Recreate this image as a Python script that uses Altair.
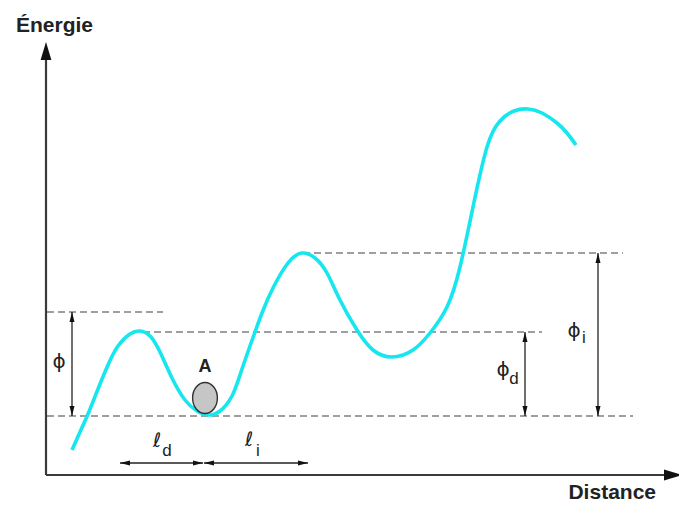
import altair as alt
import pandas as pd

# ---- data (distance d, energy e; origin at axes crossing) ----
curve_d = [26, 34, 42, 52, 62, 72, 84, 94, 104, 114, 126, 139, 151, 162, 174, 186, 194, 204,
           216, 227, 242, 256, 269, 281, 294, 311, 327, 346, 367, 384, 401, 414, 427, 441,
           454, 468, 482, 496, 511, 521, 530]
curve_e = [25, 43, 61, 86, 110, 129, 141, 144, 139, 123, 97, 75, 64, 60, 64, 79, 100, 129,
           162, 187, 212, 222, 217, 202, 175, 145, 125, 118, 125, 142, 168, 208, 268, 328,
           354, 364, 366, 362, 352, 342, 330]

# dashed reference levels
dash_d1 = [1, 1, 97, 257]
dash_d2 = [117, 587, 496, 577]
dash_e = [163, 59, 143, 222]

# vertical double arrows (phi, phi_d, phi_i)
varrow_d = [26, 479, 552]
varrow_e1 = [59, 59, 59]
varrow_e2 = [163, 143, 222]

# horizontal double arrows (l_d, l_i)
harrow_d1 = [74, 158]
harrow_d2 = [157, 262]
harrow_e = [12, 12]

# axes
axis_x_end = 636
axis_y_end = 433

# labels
sym_text = ["ϕ", "ϕ", "ϕ", "ℓ", "ℓ"]
sym_d = [13, 457, 528, 111, 203]
sym_e = [113, 105, 144, 34, 35]
sub_text = ["d", "i", "d", "i"]
sub_d = [468, 538, 121, 212]
sub_e = [96, 137, 24, 24]

ball_d = [159]
ball_e = [77]
ball_label = ["A"]
ball_label_e = [108]

# ---- scales ----
XS = alt.Scale(domain=[-38, 633])
YS = alt.Scale(domain=[-29, 467])


def X(f):
    return alt.X(f, type="quantitative", scale=XS, axis=None)


def Y(f):
    return alt.Y(f, type="quantitative", scale=YS, axis=None)


df_curve = pd.DataFrame({"d": curve_d, "e": curve_e})
df_dash = pd.DataFrame({"d1": dash_d1, "d2": dash_d2, "e": dash_e})
df_varrow = pd.DataFrame({"d": varrow_d, "e1": varrow_e1, "e2": varrow_e2})
df_harrow = pd.DataFrame({"d1": harrow_d1, "d2": harrow_d2, "e": harrow_e})

heads = []
for d, e1, e2 in zip(varrow_d, varrow_e1, varrow_e2):
    heads.append({"d": d, "e": e2, "ang": 0})
    heads.append({"d": d, "e": e1, "ang": 180})
for d1, d2, e in zip(harrow_d1, harrow_d2, harrow_e):
    heads.append({"d": d1, "e": e, "ang": 270})
    heads.append({"d": d2, "e": e, "ang": 90})
df_heads = pd.DataFrame(heads)

df_axes = pd.DataFrame({"d1": [0, 0], "d2": [axis_x_end - 10, 0],
                        "e1": [0, 0], "e2": [0, axis_y_end - 10]})
df_axheads = pd.DataFrame({"d": [axis_x_end, 0], "e": [0, axis_y_end], "ang": [90, 0]})

df_sym = pd.DataFrame({"d": sym_d, "e": sym_e, "t": sym_text})
df_sub = pd.DataFrame({"d": sub_d, "e": sub_e, "t": sub_text})
df_ball = pd.DataFrame({"d": ball_d, "e": ball_e})
df_A = pd.DataFrame({"d": ball_d, "e": ball_label_e, "t": ball_label})
df_titles = pd.DataFrame({"d": [-30], "e": [443], "t": ["Énergie"]})
df_titles2 = pd.DataFrame({"d": [610], "e": [-24], "t": ["Distance"]})

small_head = "M0,0L-0.5,2L0.5,2Z"
big_head = "M0,0L-0.3,1L0.3,1Z"
ellipse = "M-0.8,0A0.8,1 0 1,0 0.8,0A0.8,1 0 1,0 -0.8,0Z"

axes = alt.Chart(df_axes).mark_rule(color="#3a3a3a", strokeWidth=2.2).encode(
    x=X("d1"), x2=alt.X2("d2"), y=Y("e1"), y2=alt.Y2("e2"))
axheads = alt.Chart(df_axheads).mark_point(
    shape=big_head, size=1296, filled=True, color="#111", opacity=1).encode(
    x=X("d"), y=Y("e"), angle=alt.Angle("ang:Q", scale=None))

dashes = alt.Chart(df_dash).mark_rule(
    color="#808080", strokeWidth=1.6, strokeDash=[7, 4]).encode(
    x=X("d1"), x2=alt.X2("d2"), y=Y("e"))

varrows = alt.Chart(df_varrow).mark_rule(color="#222", strokeWidth=1.3).encode(
    x=X("d"), y=Y("e1"), y2=alt.Y2("e2"))
harrows = alt.Chart(df_harrow).mark_rule(color="#222", strokeWidth=1.3).encode(
    x=X("d1"), x2=alt.X2("d2"), y=Y("e"))
arrowheads = alt.Chart(df_heads).mark_point(
    shape=small_head, size=100, filled=True, color="#111", opacity=1).encode(
    x=X("d"), y=Y("e"), angle=alt.Angle("ang:Q", scale=None))

curve = alt.Chart(df_curve).mark_line(
    color="#16e6ee", strokeWidth=3.6, interpolate="natural").encode(
    x=X("d"), y=Y("e"))

ball = alt.Chart(df_ball).mark_point(
    shape=ellipse, size=960, filled=True, fill="#c6c6c6", stroke="#333",
    strokeWidth=1.4, opacity=1, fillOpacity=1).encode(x=X("d"), y=Y("e"))

lab_A = alt.Chart(df_A).mark_text(
    font="Liberation Sans", fontSize=18, fontWeight="bold", color="#222",
    baseline="middle", align="center").encode(x=X("d"), y=Y("e"), text="t:N")

syms = alt.Chart(df_sym).mark_text(
    font="DejaVu Sans", fontSize=20, color="#222", baseline="middle",
    align="center").encode(x=X("d"), y=Y("e"), text="t:N")
subs = alt.Chart(df_sub).mark_text(
    font="Liberation Sans", fontSize=17, color="#222", baseline="middle",
    align="center").encode(x=X("d"), y=Y("e"), text="t:N")

t1 = alt.Chart(df_titles).mark_text(
    font="Liberation Sans", fontSize=21, fontWeight="bold", color="#222",
    baseline="alphabetic", align="left").encode(x=X("d"), y=Y("e"), text="t:N")
t2 = alt.Chart(df_titles2).mark_text(
    font="Liberation Sans", fontSize=21, fontWeight="bold", color="#222",
    baseline="alphabetic", align="right").encode(x=X("d"), y=Y("e"), text="t:N")

chart = alt.layer(
    dashes, axes, axheads, varrows, harrows, arrowheads, curve, ball,
    lab_A, syms, subs, t1, t2
).properties(
    width=671, height=496, padding=0,
    autosize=alt.AutoSizeParams(type="none")
).configure_view(stroke=None)

chart.save("out.html", embed_options={"renderer": "svg", "actions": False})
